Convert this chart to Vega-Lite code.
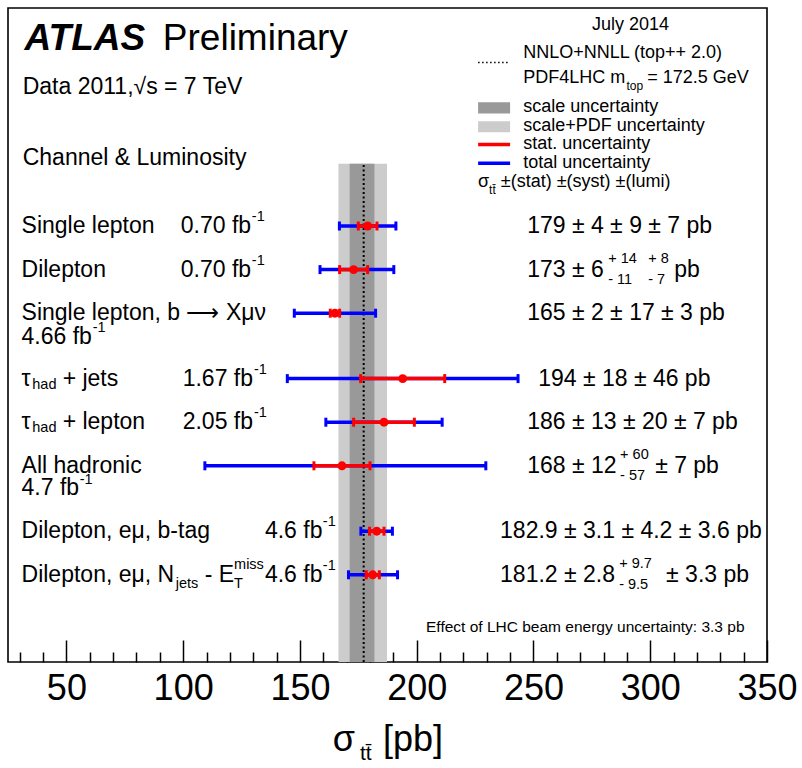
{
  "$schema": "https://vega.github.io/schema/vega-lite/v6.json",
  "width": 759,
  "height": 654,
  "autosize": {"type": "none"},
  "padding": {"left": 8, "top": 8, "right": 35, "bottom": 106},
  "background": "white",
  "config": {"view": {"stroke": "#000", "strokeWidth": 1.6}, "font": "Liberation Sans"},
  "datasets": {
    "band": [
      {"item": "pdf", "x": 166.5, "x2": 187.3, "y": 0, "y2": 11.43},
      {"item": "scale", "x": 171.3, "x2": 181.9, "y": 0, "y2": 11.43},
      {"item": "nnlo", "x": 177.3, "x2": 177.3, "y": 0, "y2": 11.43}
    ],
    "bars": [
      {"ch": "Single lepton", "y": 10, "v": 179, "sl": 175, "sh": 183, "tl": 166.9, "th": 191.1},
      {"ch": "Dilepton", "y": 9, "v": 173, "sl": 167, "sh": 179, "tl": 158.6, "th": 190.2},
      {"ch": "Single lepton b-Xmunu", "y": 8, "v": 165, "sl": 163, "sh": 167, "tl": 147.6, "th": 182.4},
      {"ch": "tau_had + jets", "y": 6.5, "v": 194, "sl": 176, "sh": 212, "tl": 144.6, "th": 243.4},
      {"ch": "tau_had + lepton", "y": 5.5, "v": 186, "sl": 173, "sh": 199, "tl": 161.1, "th": 210.9},
      {"ch": "All hadronic", "y": 4.5, "v": 168, "sl": 156, "sh": 180, "tl": 109.3, "th": 229.6},
      {"ch": "Dilepton emu b-tag", "y": 3, "v": 182.9, "sl": 179.8, "sh": 186.0, "tl": 176.1, "th": 189.6},
      {"ch": "Dilepton emu Njets-ETmiss", "y": 2, "v": 181.2, "sl": 178.4, "sh": 184.0, "tl": 170.8, "th": 191.8}
    ],
    "lg": [
      {"item": "scale", "x": 226.3, "x2": 240.0, "y": 12.58, "y2": 12.84},
      {"item": "pdf", "x": 226.3, "x2": 240.0, "y": 12.15, "y2": 12.40},
      {"item": "nnlo", "x": 226.3, "x2": 239.1, "y": 13.75, "y2": 13.75},
      {"item": "stat", "x": 226.3, "x2": 240.0, "y": 11.87, "y2": 11.87},
      {"item": "total", "x": 226.3, "x2": 240.0, "y": 11.44, "y2": 11.44}
    ],
    "txt": [
      {"k": "atlas", "x": 32.1, "y": 14.3, "t": "ATLAS"},
      {"k": "big", "x": 91.3, "y": 14.3, "t": "Preliminary"},
      {"k": "m", "x": 31.3, "y": 13.18, "t": "Data 2011,√s = 7 TeV"},
      {"k": "m", "x": 31.3, "y": 11.57, "t": "Channel & Luminosity"},
      {"k": "m", "x": 30.8, "y": 10, "t": "Single lepton"},
      {"k": "m", "x": 99.0, "y": 10, "t": "0.70 fb"},
      {"k": "s", "x": 129.4, "y": 10.2, "t": "-1"},
      {"k": "m", "x": 30.8, "y": 9, "t": "Dilepton"},
      {"k": "m", "x": 99.0, "y": 9, "t": "0.70 fb"},
      {"k": "s", "x": 129.4, "y": 9.2, "t": "-1"},
      {"k": "m", "x": 30.8, "y": 8, "t": "Single lepton, b ⟶ Xμν"},
      {"k": "m", "x": 30.8, "y": 7.46, "t": "4.66 fb"},
      {"k": "s", "x": 61.3, "y": 7.66, "t": "-1"},
      {"k": "m", "x": 30.8, "y": 6.5, "t": "τ"},
      {"k": "s", "x": 35.4, "y": 6.36, "t": "had"},
      {"k": "m", "x": 48.4, "y": 6.5, "t": "+ jets"},
      {"k": "m", "x": 99.8, "y": 6.5, "t": "1.67 fb"},
      {"k": "s", "x": 130.3, "y": 6.7, "t": "-1"},
      {"k": "m", "x": 30.8, "y": 5.5, "t": "τ"},
      {"k": "s", "x": 35.4, "y": 5.36, "t": "had"},
      {"k": "m", "x": 48.4, "y": 5.5, "t": "+ lepton"},
      {"k": "m", "x": 99.8, "y": 5.5, "t": "2.05 fb"},
      {"k": "s", "x": 130.3, "y": 5.7, "t": "-1"},
      {"k": "m", "x": 30.8, "y": 4.5, "t": "All hadronic"},
      {"k": "m", "x": 30.8, "y": 3.98, "t": "4.7 fb"},
      {"k": "s", "x": 55.7, "y": 4.18, "t": "-1"},
      {"k": "m", "x": 30.8, "y": 3, "t": "Dilepton, eμ, b-tag"},
      {"k": "m", "x": 135.0, "y": 3, "t": "4.6 fb"},
      {"k": "s", "x": 159.8, "y": 3.2, "t": "-1"},
      {"k": "m", "x": 30.8, "y": 2, "t": "Dilepton, eμ, N"},
      {"k": "s", "x": 96.8, "y": 1.8, "t": "jets"},
      {"k": "m", "x": 109.2, "y": 2, "t": "- E"},
      {"k": "s", "x": 121.8, "y": 2.22, "t": "miss"},
      {"k": "s", "x": 121.8, "y": 1.8, "t": "T"},
      {"k": "m", "x": 135.0, "y": 2, "t": "4.6 fb"},
      {"k": "s", "x": 159.8, "y": 2.2, "t": "-1"},
      {"k": "m", "x": 247.3, "y": 10, "t": "179 ± 4 ± 9 ± 7 pb"},
      {"k": "m", "x": 247.3, "y": 9, "t": "173 ± 6"},
      {"k": "s", "x": 282.0, "y": 9.24, "t": "+ 14"},
      {"k": "s", "x": 282.0, "y": 8.76, "t": "- 11"},
      {"k": "s", "x": 299.1, "y": 9.24, "t": "+ 8"},
      {"k": "s", "x": 299.1, "y": 8.76, "t": "- 7"},
      {"k": "m", "x": 310.3, "y": 9, "t": "pb"},
      {"k": "m", "x": 247.3, "y": 8, "t": "165 ± 2 ± 17 ± 3 pb"},
      {"k": "m", "x": 252.0, "y": 6.5, "t": "194 ± 18 ± 46 pb"},
      {"k": "m", "x": 247.3, "y": 5.5, "t": "186 ± 13 ± 20 ± 7 pb"},
      {"k": "m", "x": 247.3, "y": 4.5, "t": "168 ± 12"},
      {"k": "s", "x": 287.1, "y": 4.74, "t": "+ 60"},
      {"k": "s", "x": 287.1, "y": 4.26, "t": "- 57"},
      {"k": "m", "x": 302.1, "y": 4.5, "t": "± 7 pb"},
      {"k": "m", "x": 235.7, "y": 3, "t": "182.9 ± 3.1 ± 4.2 ± 3.6 pb"},
      {"k": "m", "x": 235.7, "y": 2, "t": "181.2 ± 2.8"},
      {"k": "s", "x": 286.7, "y": 2.24, "t": "+ 9.7"},
      {"k": "s", "x": 286.7, "y": 1.76, "t": "- 9.5"},
      {"k": "m", "x": 306.8, "y": 2, "t": "± 3.3 pb"},
      {"k": "l", "x": 275.1, "y": 14.6, "t": "July 2014"},
      {"k": "l", "x": 245.6, "y": 13.96, "t": "NNLO+NNLL (top++ 2.0)"},
      {"k": "l", "x": 245.6, "y": 13.39, "t": "PDF4LHC m"},
      {"k": "ls", "x": 289.8, "y": 13.2, "t": "top"},
      {"k": "l", "x": 298.7, "y": 13.39, "t": "= 172.5 GeV"},
      {"k": "l", "x": 245.6, "y": 12.72, "t": "scale uncertainty"},
      {"k": "l", "x": 245.6, "y": 12.29, "t": "scale+PDF uncertainty"},
      {"k": "l", "x": 245.6, "y": 11.87, "t": "stat. uncertainty"},
      {"k": "l", "x": 245.6, "y": 11.44, "t": "total uncertainty"},
      {"k": "l", "x": 226.3, "y": 11.0, "t": "σ"},
      {"k": "ls", "x": 231.0, "y": 10.82, "t": "tt̄"},
      {"k": "l", "x": 236.0, "y": 11.0, "t": "±(stat) ±(syst) ±(lumi)"},
      {"k": "note", "x": 204.0, "y": 0.8, "t": "Effect of LHC beam energy uncertainty: 3.3 pb"},
      {"k": "ax", "x": 164.1, "y": -1.8, "t": "σ"},
      {"k": "axs", "x": 175.7, "y": -2.12, "t": "tt̄"},
      {"k": "ax", "x": 185.6, "y": -1.8, "t": "[pb]"}
    ]
  },
  "resolve": {"axis": {"x": "independent"}},
  "layer": [
    {
      "data": {"name": "band"},
      "transform": [{"filter": "datum.item === 'pdf'"}],
      "mark": {"type": "rect", "color": "#cccccc"},
      "encoding": {
        "x": {"field": "x", "type": "quantitative", "scale": {"domain": [25, 350], "nice": false, "zero": false},
          "axis": {"orient": "bottom", "values": [50, 100, 150, 200, 250, 300, 350], "tickSize": -22, "tickWidth": 1.5, "tickColor": "#000", "domain": false, "grid": false, "title": null, "labelFontSize": 36, "labelFont": "Liberation Sans", "labelColor": "#000", "labelPadding": 31, "labelFlush": false, "labelOverlap": false}},
        "x2": {"field": "x2"},
        "y": {"field": "y", "type": "quantitative", "scale": {"domain": [0, 15], "nice": false, "zero": false}, "axis": null},
        "y2": {"field": "y2"}
      }
    },
    {
      "data": {"name": "band"},
      "transform": [{"filter": "datum.item === 'scale'"}],
      "mark": {"type": "rect", "color": "#999999"},
      "encoding": {
        "x": {"field": "x", "type": "quantitative", "scale": {"domain": [25, 350], "nice": false, "zero": false},
          "axis": {"orient": "bottom", "values": [30, 40, 60, 70, 80, 90, 110, 120, 130, 140, 160, 170, 180, 190, 210, 220, 230, 240, 260, 270, 280, 290, 310, 320, 330, 340], "tickSize": -10, "tickWidth": 1.5, "tickColor": "#000", "domain": false, "grid": false, "title": null, "labels": false}},
        "x2": {"field": "x2"},
        "y": {"field": "y", "type": "quantitative", "axis": null},
        "y2": {"field": "y2"}
      }
    },
    {
      "data": {"name": "band"},
      "transform": [{"filter": "datum.item === 'nnlo'"}],
      "mark": {"type": "rule", "color": "#000", "strokeWidth": 2, "strokeDash": [2, 2.5]},
      "encoding": {
        "x": {"field": "x", "type": "quantitative", "axis": null},
        "y": {"field": "y", "type": "quantitative", "axis": null},
        "y2": {"field": "y2"}
      }
    },
    {
      "data": {"name": "bars"},
      "mark": {"type": "rule", "color": "#0000ff", "strokeWidth": 3.5},
      "encoding": {
        "x": {"field": "tl", "type": "quantitative", "axis": null},
        "x2": {"field": "th"},
        "y": {"field": "y", "type": "quantitative", "axis": null}
      }
    },
    {
      "data": {"name": "bars"},
      "mark": {"type": "tick", "orient": "vertical", "color": "#0000ff", "size": 9, "thickness": 3, "opacity": 1},
      "encoding": {
        "x": {"field": "tl", "type": "quantitative", "axis": null},
        "y": {"field": "y", "type": "quantitative", "axis": null}
      }
    },
    {
      "data": {"name": "bars"},
      "mark": {"type": "tick", "orient": "vertical", "color": "#0000ff", "size": 9, "thickness": 3, "opacity": 1},
      "encoding": {
        "x": {"field": "th", "type": "quantitative", "axis": null},
        "y": {"field": "y", "type": "quantitative", "axis": null}
      }
    },
    {
      "data": {"name": "bars"},
      "mark": {"type": "rule", "color": "#ff0000", "strokeWidth": 3.5},
      "encoding": {
        "x": {"field": "sl", "type": "quantitative", "axis": null},
        "x2": {"field": "sh"},
        "y": {"field": "y", "type": "quantitative", "axis": null}
      }
    },
    {
      "data": {"name": "bars"},
      "mark": {"type": "tick", "orient": "vertical", "color": "#ff0000", "size": 9, "thickness": 3, "opacity": 1},
      "encoding": {
        "x": {"field": "sl", "type": "quantitative", "axis": null},
        "y": {"field": "y", "type": "quantitative", "axis": null}
      }
    },
    {
      "data": {"name": "bars"},
      "mark": {"type": "tick", "orient": "vertical", "color": "#ff0000", "size": 9, "thickness": 3, "opacity": 1},
      "encoding": {
        "x": {"field": "sh", "type": "quantitative", "axis": null},
        "y": {"field": "y", "type": "quantitative", "axis": null}
      }
    },
    {
      "data": {"name": "bars"},
      "mark": {"type": "point", "shape": "circle", "filled": true, "color": "#ff0000", "size": 80, "opacity": 1},
      "encoding": {
        "x": {"field": "v", "type": "quantitative", "axis": null},
        "y": {"field": "y", "type": "quantitative", "axis": null}
      }
    },
    {
      "data": {"name": "lg"},
      "transform": [{"filter": "datum.item === 'scale'"}],
      "mark": {"type": "rect", "color": "#999999"},
      "encoding": {
        "x": {"field": "x", "type": "quantitative", "axis": null},
        "x2": {"field": "x2"},
        "y": {"field": "y", "type": "quantitative", "axis": null},
        "y2": {"field": "y2"}
      }
    },
    {
      "data": {"name": "lg"},
      "transform": [{"filter": "datum.item === 'pdf'"}],
      "mark": {"type": "rect", "color": "#cccccc"},
      "encoding": {
        "x": {"field": "x", "type": "quantitative", "axis": null},
        "x2": {"field": "x2"},
        "y": {"field": "y", "type": "quantitative", "axis": null},
        "y2": {"field": "y2"}
      }
    },
    {
      "data": {"name": "lg"},
      "transform": [{"filter": "datum.item === 'nnlo'"}],
      "mark": {"type": "rule", "color": "#000", "strokeWidth": 1.5, "strokeDash": [1.5, 2.5]},
      "encoding": {
        "x": {"field": "x", "type": "quantitative", "axis": null},
        "x2": {"field": "x2"},
        "y": {"field": "y", "type": "quantitative", "axis": null}
      }
    },
    {
      "data": {"name": "lg"},
      "transform": [{"filter": "datum.item === 'stat'"}],
      "mark": {"type": "rule", "color": "#ff0000", "strokeWidth": 3.5},
      "encoding": {
        "x": {"field": "x", "type": "quantitative", "axis": null},
        "x2": {"field": "x2"},
        "y": {"field": "y", "type": "quantitative", "axis": null}
      }
    },
    {
      "data": {"name": "lg"},
      "transform": [{"filter": "datum.item === 'total'"}],
      "mark": {"type": "rule", "color": "#0000ff", "strokeWidth": 3.5},
      "encoding": {
        "x": {"field": "x", "type": "quantitative", "axis": null},
        "x2": {"field": "x2"},
        "y": {"field": "y", "type": "quantitative", "axis": null}
      }
    },
    {
      "data": {"name": "txt"},
      "transform": [{"filter": "datum.k === 'atlas'"}],
      "mark": {"type": "text", "align": "left", "baseline": "middle", "font": "Liberation Sans", "fontSize": 37, "fontWeight": "bold", "fontStyle": "italic", "color": "#000"},
      "encoding": {
        "x": {"field": "x", "type": "quantitative", "axis": null},
        "y": {"field": "y", "type": "quantitative", "axis": null},
        "text": {"field": "t"}
      }
    },
    {
      "data": {"name": "txt"},
      "transform": [{"filter": "datum.k === 'big'"}],
      "mark": {"type": "text", "align": "left", "baseline": "middle", "font": "Liberation Sans", "fontSize": 37, "color": "#000"},
      "encoding": {
        "x": {"field": "x", "type": "quantitative", "axis": null},
        "y": {"field": "y", "type": "quantitative", "axis": null},
        "text": {"field": "t"}
      }
    },
    {
      "data": {"name": "txt"},
      "transform": [{"filter": "datum.k === 'm'"}],
      "mark": {"type": "text", "align": "left", "baseline": "middle", "font": "Liberation Sans", "fontSize": 23, "color": "#000"},
      "encoding": {
        "x": {"field": "x", "type": "quantitative", "axis": null},
        "y": {"field": "y", "type": "quantitative", "axis": null},
        "text": {"field": "t"}
      }
    },
    {
      "data": {"name": "txt"},
      "transform": [{"filter": "datum.k === 's'"}],
      "mark": {"type": "text", "align": "left", "baseline": "middle", "font": "Liberation Sans", "fontSize": 14.5, "color": "#000"},
      "encoding": {
        "x": {"field": "x", "type": "quantitative", "axis": null},
        "y": {"field": "y", "type": "quantitative", "axis": null},
        "text": {"field": "t"}
      }
    },
    {
      "data": {"name": "txt"},
      "transform": [{"filter": "datum.k === 'l'"}],
      "mark": {"type": "text", "align": "left", "baseline": "middle", "font": "Liberation Sans", "fontSize": 18, "color": "#000"},
      "encoding": {
        "x": {"field": "x", "type": "quantitative", "axis": null},
        "y": {"field": "y", "type": "quantitative", "axis": null},
        "text": {"field": "t"}
      }
    },
    {
      "data": {"name": "txt"},
      "transform": [{"filter": "datum.k === 'ls'"}],
      "mark": {"type": "text", "align": "left", "baseline": "middle", "font": "Liberation Sans", "fontSize": 12, "color": "#000"},
      "encoding": {
        "x": {"field": "x", "type": "quantitative", "axis": null},
        "y": {"field": "y", "type": "quantitative", "axis": null},
        "text": {"field": "t"}
      }
    },
    {
      "data": {"name": "txt"},
      "transform": [{"filter": "datum.k === 'note'"}],
      "mark": {"type": "text", "align": "left", "baseline": "middle", "font": "Liberation Sans", "fontSize": 15.5, "color": "#000"},
      "encoding": {
        "x": {"field": "x", "type": "quantitative", "axis": null},
        "y": {"field": "y", "type": "quantitative", "axis": null},
        "text": {"field": "t"}
      }
    },
    {
      "data": {"name": "txt"},
      "transform": [{"filter": "datum.k === 'ax'"}],
      "mark": {"type": "text", "align": "left", "baseline": "middle", "font": "Liberation Sans", "fontSize": 36, "color": "#000"},
      "encoding": {
        "x": {"field": "x", "type": "quantitative", "axis": null},
        "y": {"field": "y", "type": "quantitative", "axis": null},
        "text": {"field": "t"}
      }
    },
    {
      "data": {"name": "txt"},
      "transform": [{"filter": "datum.k === 'axs'"}],
      "mark": {"type": "text", "align": "left", "baseline": "middle", "font": "Liberation Sans", "fontSize": 21, "color": "#000"},
      "encoding": {
        "x": {"field": "x", "type": "quantitative", "axis": null},
        "y": {"field": "y", "type": "quantitative", "axis": null},
        "text": {"field": "t"}
      }
    }
  ]
}
